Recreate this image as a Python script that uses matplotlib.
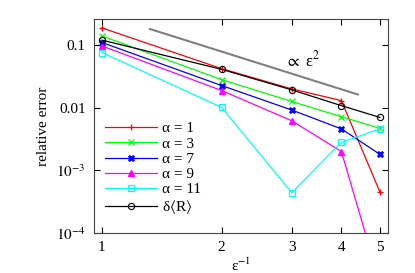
import numpy as np
import matplotlib
matplotlib.use('Agg')
import matplotlib.pyplot as plt
from matplotlib.ticker import FixedLocator, FixedFormatter, NullLocator

plt.rcParams['font.family'] = ['Liberation Serif', 'DejaVu Serif']
plt.rcParams['mathtext.fontset'] = 'stix'

# inverse epsilon
eps_inv = [1, 2, 3, 4, 5]

# relative errors
err_a1 = [0.188, 0.042, 0.020, 0.013, 4.5e-4]
err_a3 = [0.140, 0.028, 0.0126, 0.0072, 0.0047]
err_a7 = [0.110, 0.0226, 0.0092, 0.0046, 0.0018]
err_a9 = [0.097, 0.0188, 0.0062, 0.0020, 1.6e-5]
err_a11 = [0.076, 0.0101, 4.4e-4, 0.0028, 0.0046]
err_R = [0.120, 0.041, 0.0193, 0.0108, 0.0070]

# reference slope line
ref_x = [1.32, 4.4]
ref_c = 0.315

fig = plt.figure(figsize=(4.15, 2.73), dpi=100)
ax = fig.add_axes([0.2265, 0.1465, 0.7085, 0.7835])

ax.plot(ref_x, [ref_c / x**2 for x in ref_x], color='#808080', lw=1.5)
ax.text(3.2, 0.057, r'$\propto$ ε$^2$', fontsize=12, ha='center', va='center')

ax.plot(eps_inv, err_a1, color='red', lw=0.9, marker='+', ms=5, mew=0.9, label='α = 1')
ax.plot(eps_inv, err_a3, color='#00ff00', lw=0.9, marker='x', ms=4, mew=0.9, label='α = 3')
ax.plot(eps_inv, err_a7, color='blue', lw=0.9, marker='X', ms=5, mew=0.5, label='α = 7')
ax.plot(eps_inv, err_a9, color='magenta', lw=0.9, marker='^', ms=4, label='α = 9')
ax.plot(eps_inv, err_a11, color='cyan', lw=0.9, marker='s', ms=4.5, mfc='none', mew=0.9, label='α = 11')
ax.plot(eps_inv, err_R, color='black', lw=0.9, marker='o', ms=4.5, mfc='none', mew=0.8,
        label=r'δ$\langle$R$\rangle$')

ax.set_xscale('log')
ax.set_yscale('log')
ax.set_xlim(0.955, 5.24)
ax.set_ylim(1e-4, 0.26)

ax.xaxis.set_major_locator(FixedLocator(eps_inv))
ax.xaxis.set_major_formatter(FixedFormatter([str(v) for v in eps_inv]))
ax.xaxis.set_minor_locator(NullLocator())
ax.yaxis.set_major_locator(FixedLocator([1e-4, 1e-3, 1e-2, 1e-1]))
ax.yaxis.set_major_formatter(FixedFormatter([r'$10^{-4}$', r'$10^{-3}$', '0.01', '0.1']))
ax.yaxis.set_minor_locator(NullLocator())
ax.tick_params(direction='in', top=True, right=True, length=4, labelsize=11, pad=6)
for s in ax.spines.values():
    s.set_color('#444444')

ax.set_ylabel('relative error', fontsize=11)
ax.set_xlabel('ε$^{-1}$', fontsize=11, labelpad=0)
ax.xaxis.set_label_coords(0.5, -0.11)

ax.legend(loc='lower left', bbox_to_anchor=(0.0, 0.03), frameon=False, fontsize=11,
          handlelength=3.4, handletextpad=0.35, labelspacing=0.1, borderaxespad=0.3)

fig.savefig('out.png', dpi=100)
